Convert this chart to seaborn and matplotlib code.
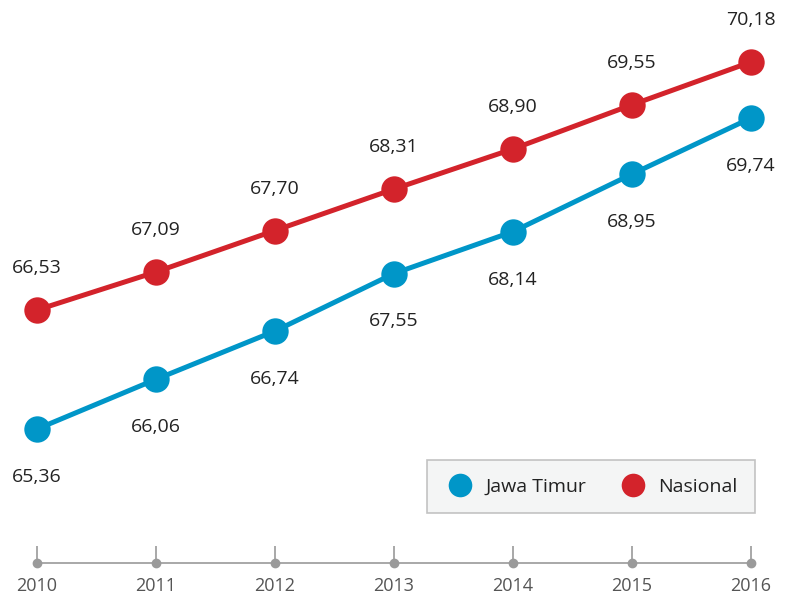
import matplotlib
matplotlib.use("Agg")
import matplotlib.pyplot as plt
from matplotlib.lines import Line2D
import seaborn as sns
import numpy as np
import pandas as pd

years = [2010, 2011, 2012, 2013, 2014, 2015, 2016]
jawa_timur = [65.36, 66.06, 66.74, 67.55, 68.14, 68.95, 69.74]
nasional = [66.53, 67.09, 67.70, 68.31, 68.90, 69.55, 70.18]
series_names = ["Jawa Timur", "Nasional"]

BLUE = "#0096c8"
RED = "#d3232b"
GREY = "#9a9a9a"

sns.set_theme(style="white")
plt.rcParams["font.family"] = ["Open Sans", "DejaVu Sans"]

W, H = 789, 594
fig = plt.figure(figsize=(W / 100, H / 100), dpi=100)
bottom_px = 563
ax = fig.add_axes([0, (H - bottom_px) / H, 1, bottom_px / H])
ax2 = ax.twinx()

df_j = pd.DataFrame({"year": years, "value": jawa_timur})
df_n = pd.DataFrame({"year": years, "value": nasional})

sns.lineplot(data=df_j, x="year", y="value", ax=ax, color=BLUE, linewidth=3.6,
             marker="o", markersize=19, markeredgewidth=0, zorder=3)
sns.lineplot(data=df_n, x="year", y="value", ax=ax2, color=RED, linewidth=3.6,
             marker="o", markersize=19, markeredgewidth=0, zorder=3)

# x scale: 2010 at 37px, 119 px per year
ax.set_xlim(2010 - 37 / 119, 2016 + (W - 751) / 119)
# y scales (infographic uses separate scales per series)
ax.set_ylim(63.473, 71.402)
ax2.set_ylim(62.807, 71.092)

for x, v in zip(years, jawa_timur):
    ax.annotate(f"{v:.2f}".replace(".", ","), (x, v), xytext=(0, -34.5),
                textcoords="offset points", ha="center", va="center",
                fontsize=14, color="#222222")
for x, v in zip(years, nasional):
    ax2.annotate(f"{v:.2f}".replace(".", ","), (x, v), xytext=(0, 30),
                 textcoords="offset points", ha="center", va="center",
                 fontsize=14, color="#222222")

for a in (ax, ax2):
    for s in a.spines.values():
        s.set_visible(False)
    a.set_xlabel("")
    a.set_ylabel("")
ax2.set_yticks([])
ax.set_yticks([])

ax.spines["bottom"].set_visible(True)
ax.spines["bottom"].set_color(GREY)
ax.spines["bottom"].set_linewidth(1.2)
ax.spines["bottom"].set_bounds(2010, 2016)
ax.set_xticks(years)
ax.set_xticklabels([str(y) for y in years])
ax.tick_params(axis="x", direction="in", length=12, width=1.2, color=GREY,
               pad=10, labelsize=13, labelcolor="#555555", bottom=True)
ax.plot(years, [ax.get_ylim()[0]] * len(years), "o", color=GREY, markersize=6,
        clip_on=False, zorder=4)

handles = [Line2D([], [], marker="o", linestyle="", markersize=17, color=c,
                  markeredgewidth=0) for c in (BLUE, RED)]
leg = ax2.legend(handles, series_names, ncol=2, loc="center left",
                 bbox_to_anchor=(427 / W, (bottom_px - 486.5) / bottom_px),
                 fontsize=14, frameon=True, fancybox=False,
                 handletextpad=0.5, columnspacing=1.6, borderpad=0.9,
                 handlelength=1.6, borderaxespad=0)
frame = leg.get_frame()
frame.set_facecolor("#f2f3f3")
frame.set_edgecolor("#b5b5b5")
frame.set_linewidth(1.2)
for t in leg.get_texts():
    t.set_color("#222222")

fig.savefig("out.png", dpi=100)
